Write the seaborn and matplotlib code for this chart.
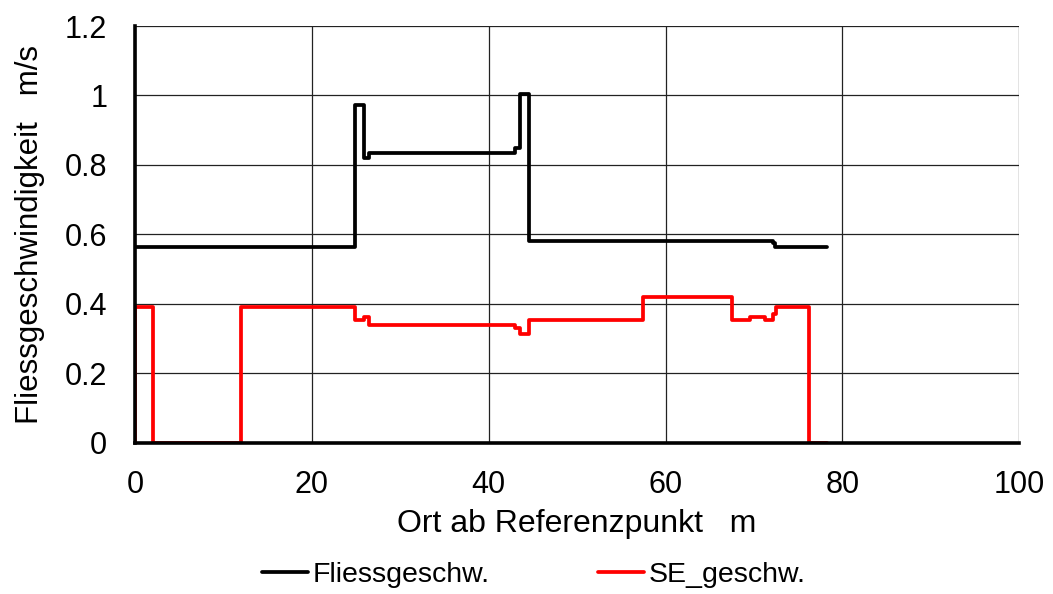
import numpy as np
import pandas as pd
import matplotlib
matplotlib.use("Agg")
import matplotlib.pyplot as plt
import seaborn as sns

# Data (step functions, value holds until next x)
fl_x = [0, 24.9, 25.9, 26.5, 43.0, 43.55, 44.5, 72.2, 72.4, 78.2]
fl_y = [0.565, 0.973, 0.82, 0.835, 0.849, 1.005, 0.582, 0.575, 0.563, 0.563]

se_x = [0, 0, 2.0, 12.0, 24.9, 25.9, 26.5, 43.0, 43.55, 44.5, 57.4, 67.5, 69.6, 71.2, 72.2, 72.5, 76.2, 78.2]
se_y = [0, 0.39, 0, 0.39, 0.352, 0.362, 0.34, 0.33, 0.314, 0.354, 0.421, 0.354, 0.362, 0.354, 0.37, 0.39, 0, 0]

x_ticks = [0, 20, 40, 60, 80, 100]
y_ticks = [0, 0.2, 0.4, 0.6, 0.8, 1.0, 1.2]
y_ticklabels = ["0", "0.2", "0.4", "0.6", "0.8", "1", "1.2"]

sns.set_style("white")
plt.rcParams['font.family'] = ['Liberation Sans', 'DejaVu Sans']
plt.rcParams['text.color'] = 'black'
plt.rcParams['axes.labelcolor'] = 'black'

fig = plt.figure(figsize=(10.53, 5.94), dpi=100)
ax = fig.add_axes([0.1282, 0.2547, 0.968 - 0.1282, 0.9562 - 0.2547])

df_fl = pd.DataFrame({"x": fl_x, "y": fl_y})
df_se = pd.DataFrame({"x": se_x, "y": se_y})

sns.lineplot(data=df_fl, x="x", y="y", ax=ax, color="black", lw=2.7,
             drawstyle="steps-post", sort=False, estimator=None, label="Fliessgeschw.", zorder=4)
sns.lineplot(data=df_se, x="x", y="y", ax=ax, color="#ff0000", lw=2.7,
             drawstyle="steps-post", sort=False, estimator=None, label="SE_geschw.", zorder=3)

ax.set_xlim(0, 100)
ax.set_ylim(0, 1.2)
ax.set_xticks(x_ticks)
ax.set_xticklabels([str(t) for t in x_ticks])
ax.set_yticks(y_ticks)
ax.set_yticklabels(y_ticklabels)

ax.grid(True, color="#222222", lw=0.9)
ax.set_axisbelow(True)
for s in ["top", "right"]:
    ax.spines[s].set_visible(False)
for s in ["left", "bottom"]:
    ax.spines[s].set_color("black")
    ax.spines[s].set_linewidth(2.6)
    ax.spines[s].set_zorder(5)

ax.tick_params(axis="both", direction="out", length=7, width=2.6, color="black",
               labelsize=22, labelcolor="black")
ax.tick_params(axis="x", pad=13)
ax.tick_params(axis="y", pad=13)

ax.set_xlabel("Ort ab Referenzpunkt   m", fontsize=23, color="black", labelpad=6)
ax.set_ylabel("Fliessgeschwindigkeit   m/s", fontsize=22.5, color="black", labelpad=14)

ax.get_legend().remove()
h, l = ax.get_legend_handles_labels()
fig.legend(h, l, loc="center", bbox_to_anchor=(0.507, 0.032), ncol=2, frameon=False,
           fontsize=20.5, handlelength=1.6, handletextpad=0.18, columnspacing=3.8,
           borderpad=0, borderaxespad=0)

fig.savefig("out.png", dpi=100, facecolor="white")
